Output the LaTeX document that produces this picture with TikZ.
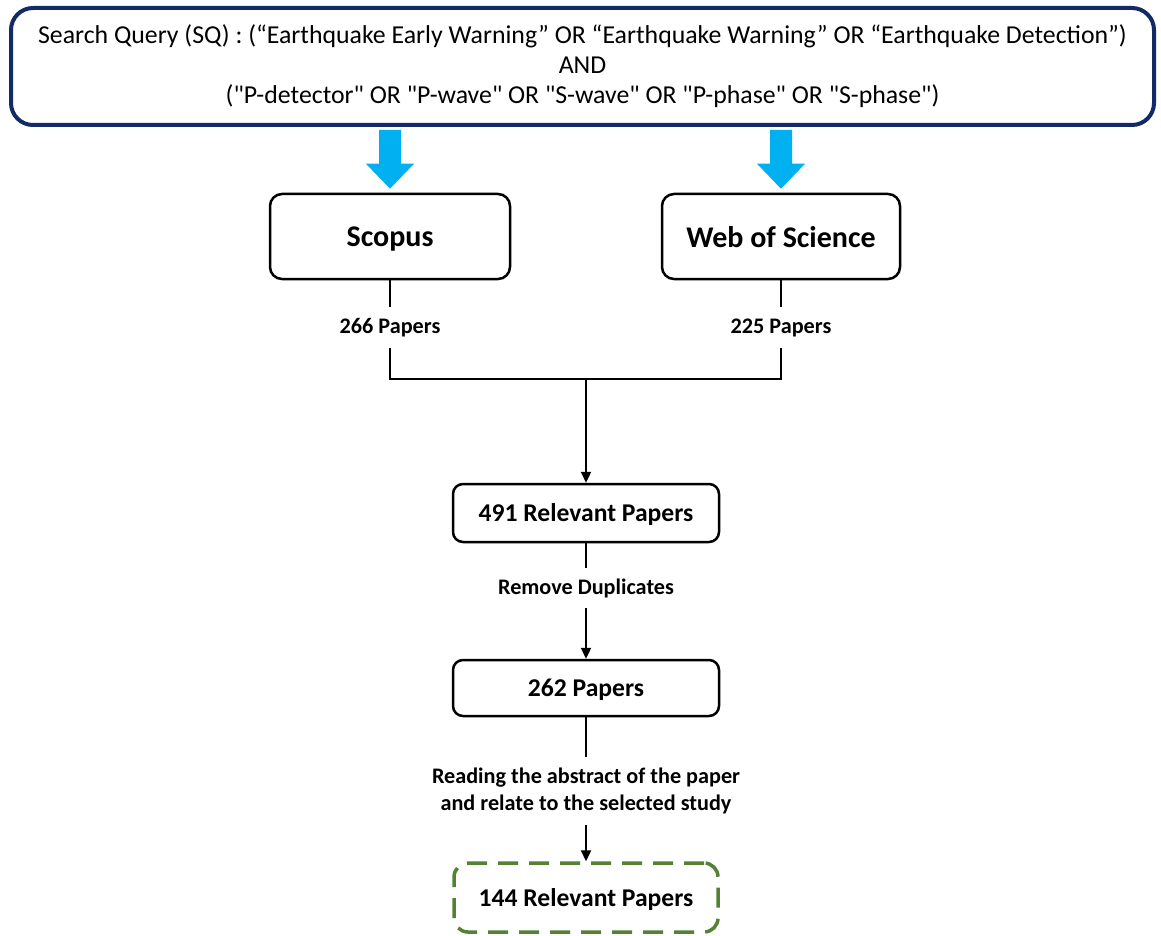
\documentclass[tikz,border=0pt]{standalone}
\usepackage{fontspec}
\setmainfont{Carlito}[Ligatures=TeXOff]
\usetikzlibrary{arrows.meta,calc}
\definecolor{navy}{RGB}{18,42,102}
\definecolor{skyblue}{RGB}{0,176,240}
\definecolor{dgreen}{RGB}{84,130,53}
\tikzset{
  box/.style={draw=black, line width=2.5pt, rounded corners=12pt, fill=white, inner sep=0pt, align=center, text depth=0pt},
  lbl/.style={inner sep=0pt, align=center, font=\fontsize{22.2}{27}\selectfont\bfseries},
  conn/.style={line width=2.3pt, black},
  arr/.style={conn, -{Triangle[width=10pt,length=11pt]}},
  bigarr/.style={fill=skyblue, draw=none}
}
\begin{document}
\begin{tikzpicture}[x=1pt,y=-1pt]
\useasboundingbox (0,0) rectangle (1161,936);
\node[draw=navy, line width=4pt, rounded corners=22pt, minimum width=1143pt, minimum height=117pt, inner sep=0pt, align=center, font=\fontsize{25.8}{30}\selectfont] (top) at (582.5,66.5)
 {Search Query (SQ) : (“Earthquake Early Warning” OR “Earthquake Warning” OR “Earthquake Detection”)\\AND\\("P-detector" OR "P-wave" OR "S-wave" OR "P-phase" OR "S-phase")};
\node[box, minimum width=240pt, minimum height=85pt, font=\fontsize{30}{34}\selectfont\bfseries] (scopus) at (390,236.5) {Scopus};
\node[box, minimum width=238pt, minimum height=85pt, font=\fontsize{30}{34}\selectfont\bfseries] (wos) at (781,236.5) {Web of Science};
% blue arrows
\foreach \n in {scopus,wos}{
  \coordinate (s) at (top.south -| \n.north);
  \fill[bigarr] ($(s)+(-11,3)$) -- ($(s)+(11,3)$) -- ($(\n.north)+(11,-29)$) -- ($(\n.north)+(24,-29)$) -- ($(\n.north)+(0,-4)$) -- ($(\n.north)+(-24,-29)$) -- ($(\n.north)+(-11,-29)$) -- cycle;
}
\node[lbl, minimum height=41pt] (l266) at (390,327.5) {266 Papers};
\node[lbl, minimum height=41pt] (l225) at (781,327.5) {225 Papers};
\coordinate (j) at (586,379);
\node[box, rounded corners=10pt, minimum width=266pt, minimum height=58pt, font=\fontsize{25.6}{30}\selectfont\bfseries] (r491) at (586,513) {491 Relevant Papers};
\node[lbl, minimum height=40pt] (lrd) at (586,588) {Remove Duplicates};
\node[box, rounded corners=10pt, minimum width=266pt, minimum height=56pt, font=\fontsize{25.6}{30}\selectfont\bfseries] (r262) at (586,688) {262 Papers};
\node[lbl, minimum height=68pt] (lra) at (586,791) {Reading the abstract of the paper\\and relate to the selected study};
\node[draw=dgreen, line width=3.5pt, dash pattern=on 20pt off 11pt, rounded corners=14pt, minimum width=264pt, minimum height=69pt, inner sep=0pt, text depth=0pt, font=\fontsize{25.6}{30}\selectfont\bfseries] (r144) at (586,897.5) {144 Relevant Papers};
\draw[conn] (scopus.south) -- (l266.north);
\draw[conn] (wos.south) -- (l225.north);
\draw[conn] (l266.south) |- (j);
\draw[conn] (l225.south) |- (j);
\draw[arr] (j) -- (r491.north);
\draw[conn] (r491.south) -- (lrd.north);
\draw[arr] (lrd.south) -- (r262.north);
\draw[conn] (r262.south) -- (lra.north);
\draw[arr] (lra.south) -- (r144.north);
\end{tikzpicture}
\end{document}
